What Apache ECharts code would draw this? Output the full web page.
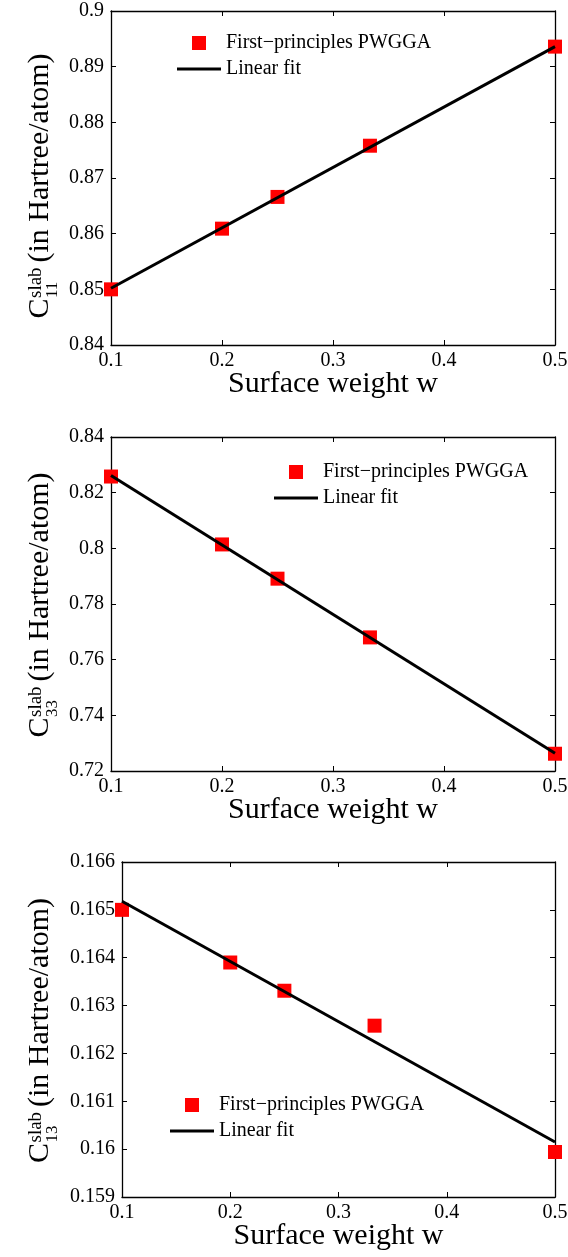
<!DOCTYPE html>
<html>
<head>
<meta charset="utf-8">
<title>Slab elastic constants vs surface weight</title>
<script src="https://cdn.jsdelivr.net/npm/echarts@6.0.0/dist/echarts.min.js"></script>
<style>
  html, body { margin: 0; padding: 0; background: #fff; }
  #chart { width: 568px; height: 1257px; }
</style>
</head>
<body>
<div id="chart"></div>
<script>
// Surface weight w of each slab calculation
const surfaceWeight = [0.1, 0.2, 0.25, 0.3333, 0.5];

// First-principles (PWGGA) slab constants, Hartree/atom
const c11Slab = [0.8500, 0.8609, 0.8666, 0.8758, 0.8936];
const c33Slab = [0.8258, 0.8014, 0.7891, 0.7680, 0.7262];
const c13Slab = [0.16500, 0.16390, 0.16331, 0.16258, 0.15994];

// Linear fit end points (at w = 0.1 and w = 0.5)
const fitWeight = [0.1, 0.5];
const c11Fit = [0.8502, 0.8936];
const c33Fit = [0.8262, 0.7264];
const c13Fit = [0.16518, 0.16015];

// Axis ticks
const xTicks = [0.1, 0.2, 0.3, 0.4, 0.5];
const c11Ticks = [0.84, 0.85, 0.86, 0.87, 0.88, 0.89, 0.9];
const c33Ticks = [0.72, 0.74, 0.76, 0.78, 0.8, 0.82, 0.84];
const c13Ticks = [0.159, 0.16, 0.161, 0.162, 0.163, 0.164, 0.165, 0.166];

const subscripts = ['11', '33', '13'];
const pointName = 'First\u2212principles PWGGA';
const fitName = 'Linear fit';
const xName = 'Surface weight w';

const FONT = '"Liberation Serif", "Times New Roman", Times, serif';

// Pixel layout of the three stacked panels
const panels = [
  { left: 111, top: 11, width: 444, height: 334, legend: { left: 177, top: 33 }, titleShift: 8,
    values: c11Slab, fit: c11Fit, ticks: c11Ticks },
  { left: 111, top: 437, width: 444, height: 334, legend: { left: 274, top: 462 }, titleShift: 1,
    values: c33Slab, fit: c33Fit, ticks: c33Ticks },
  { left: 122, top: 862, width: 433, height: 335, legend: { left: 170, top: 1095 }, titleShift: 1,
    values: c13Slab, fit: c13Fit, ticks: c13Ticks }
];

const step = t => +(t[1] - t[0]).toFixed(6);

const axisLine = { show: true, onZero: false, lineStyle: { color: '#000', width: 1.3 } };
const axisTick = { show: true, inside: true, length: 5, lineStyle: { color: '#000', width: 1 } };
const labelStyle = { color: '#000', fontFamily: FONT, fontSize: 20 };

const grid = [], xAxis = [], yAxis = [], series = [], legend = [], graphic = [];

panels.forEach((p, i) => {
  grid.push({ left: p.left, top: p.top, width: p.width, height: p.height,
              containLabel: false, outerBoundsMode: 'none', show: false });

  const xRange = { min: xTicks[0], max: xTicks[xTicks.length - 1], interval: step(xTicks) };
  const yRange = { min: p.ticks[0], max: p.ticks[p.ticks.length - 1], interval: step(p.ticks) };

  xAxis.push(Object.assign({
    type: 'value', gridIndex: i, position: 'bottom',
    axisLine, axisTick, splitLine: { show: false },
    axisLabel: Object.assign({ margin: 6, showMinLabel: true, showMaxLabel: true,
                               hideOverlap: false }, labelStyle),
    name: xName, nameLocation: 'middle', nameGap: 24, nameMoveOverlap: false,
    nameTextStyle: { color: '#000', fontFamily: FONT, fontSize: 30 }
  }, xRange));
  xAxis.push(Object.assign({
    type: 'value', gridIndex: i, position: 'top',
    axisLine, axisTick, splitLine: { show: false }, axisLabel: { show: false }
  }, xRange));

  yAxis.push(Object.assign({
    type: 'value', gridIndex: i, position: 'left',
    axisLine, axisTick, splitLine: { show: false },
    axisLabel: Object.assign({ margin: 7, showMinLabel: true, showMaxLabel: true,
                               hideOverlap: false }, labelStyle)
  }, yRange));
  yAxis.push(Object.assign({
    type: 'value', gridIndex: i, position: 'right',
    axisLine, axisTick, splitLine: { show: false }, axisLabel: { show: false }
  }, yRange));

  series.push({
    name: pointName, type: 'scatter', xAxisIndex: 2 * i, yAxisIndex: 2 * i,
    symbol: 'rect', symbolSize: 14, clip: false, z: 2,
    itemStyle: { color: '#ff0000', opacity: 1 },
    emphasis: { disabled: true },
    data: surfaceWeight.map((w, k) => [w, p.values[k]])
  });
  series.push({
    name: fitName, type: 'line', xAxisIndex: 2 * i, yAxisIndex: 2 * i,
    symbol: 'none', showSymbol: false, z: 3, clip: false,
    lineStyle: { color: '#000', width: 3 }, itemStyle: { color: '#000' },
    emphasis: { disabled: true },
    data: fitWeight.map((w, k) => [w, p.fit[k]])
  });

  legend.push({
    orient: 'vertical', left: p.legend.left, top: p.legend.top, padding: 0,
    itemWidth: 44, itemHeight: 14, itemGap: 6, symbolKeepAspect: true,
    selectedMode: false,
    textStyle: { color: '#000', fontFamily: FONT, fontSize: 20 },
    data: [
      { name: pointName, icon: 'path://M0,0M44,14M15,0H29V14H15Z', itemStyle: { color: '#ff0000', opacity: 1 } },
      { name: fitName, icon: 'path://M0,0M44,14M0,5.5H44V8.5H0Z', itemStyle: { color: '#000' } }
    ]
  });

  // Rotated y-axis title: C with "slab" superscript and index subscript
  const centerY = p.top + p.height / 2 + p.titleShift;
  graphic.push({
    type: 'group', x: 0, y: centerY + 132.5, rotation: Math.PI / 2,
    children: [
      { type: 'text', x: 0, y: 40.5,
        style: { text: 'C', font: '30px ' + FONT, fill: '#000',
                 align: 'left', verticalAlign: 'middle', textAlign: 'left', textVerticalAlign: 'middle' } },
      { type: 'text', x: 20.5, y: 36,
        style: { text: 'slab', font: '19px ' + FONT, fill: '#000',
                 align: 'left', verticalAlign: 'middle', textAlign: 'left', textVerticalAlign: 'middle' } },
      { type: 'text', x: 20.5, y: 52.5,
        style: { text: subscripts[i], font: '17px ' + FONT, fill: '#000',
                 align: 'left', verticalAlign: 'middle', textAlign: 'left', textVerticalAlign: 'middle' } },
      { type: 'text', x: 56, y: 40.5,
        style: { text: '(in Hartree/atom)', font: '30px ' + FONT, fill: '#000',
                 align: 'left', verticalAlign: 'middle', textAlign: 'left', textVerticalAlign: 'middle' } }
    ]
  });
});

const chart = echarts.init(document.getElementById('chart'), null, { renderer: 'canvas' });
chart.setOption({
  backgroundColor: '#fff',
  animation: false,
  textStyle: { fontFamily: FONT },
  tooltip: { show: false },
  grid, xAxis, yAxis, series, legend, graphic
});
</script>
</body>
</html>
